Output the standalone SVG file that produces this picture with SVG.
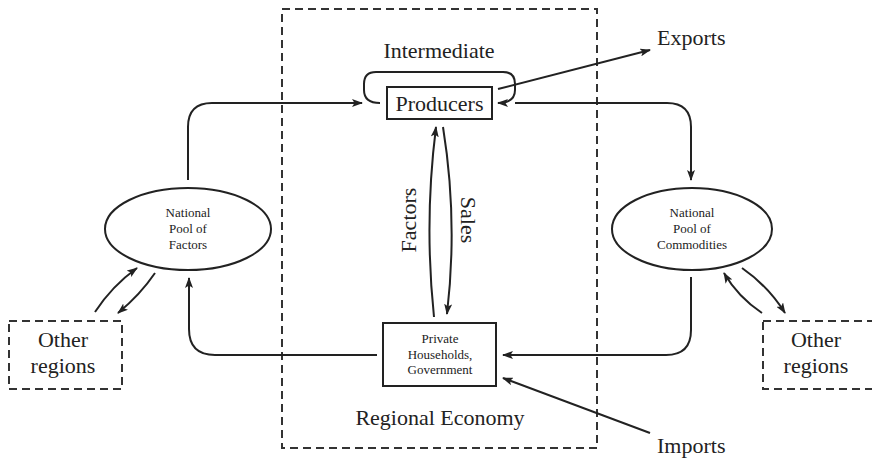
<svg xmlns="http://www.w3.org/2000/svg" width="872" height="458" viewBox="0 0 872 458">
<style>
  .t { font-family: "Liberation Serif", "Times New Roman", serif; fill: #222; }
  .big { font-size: 22px; }
  .sm { font-size: 13px; }
  .ln { fill: none; stroke: #222; stroke-width: 2; }
  .dash { fill: none; stroke: #333; stroke-width: 2; stroke-dasharray: 8 5; }
  .arr { marker-end: url(#ah); }
</style>
<defs>
  <marker id="ah" markerUnits="userSpaceOnUse" markerWidth="11" markerHeight="8" refX="10" refY="4" orient="auto">
    <path d="M0,0 L11,4 L0,8 L2.5,4 z" fill="#222"/>
  </marker>
</defs>
<rect width="872" height="458" fill="#fff"/>

<g id="regional-economy">
  <rect class="dash" x="282" y="9" width="315" height="439"/>
  <text class="t big" x="440" y="425" text-anchor="middle">Regional Economy</text>
</g>

<g id="producers">
  <rect class="ln" x="387" y="87" width="105" height="32"/>
  <text class="t big" x="439.5" y="111" text-anchor="middle">Producers</text>
</g>

<g id="intermediate-label">
  <text class="t big" x="439" y="58" text-anchor="middle">Intermediate</text>
</g>

<g id="households">
  <rect class="ln" x="383" y="323" width="113" height="63"/>
  <text class="t sm" x="440" y="343" text-anchor="middle">Private</text>
  <text class="t sm" x="440" y="359" text-anchor="middle">Households,</text>
  <text class="t sm" x="440" y="374" text-anchor="middle">Government</text>
</g>

<g id="pool-factors">
  <ellipse class="ln" cx="188" cy="229" rx="83" ry="41"/>
  <text class="t sm" x="188" y="217" text-anchor="middle">National</text>
  <text class="t sm" x="188" y="233" text-anchor="middle">Pool of</text>
  <text class="t sm" x="188" y="249" text-anchor="middle">Factors</text>
</g>

<g id="pool-commodities">
  <ellipse class="ln" cx="692" cy="229" rx="80" ry="41"/>
  <text class="t sm" x="692" y="217" text-anchor="middle">National</text>
  <text class="t sm" x="692" y="233" text-anchor="middle">Pool of</text>
  <text class="t sm" x="692" y="249" text-anchor="middle">Commodities</text>
</g>

<g id="other-regions-left">
  <rect class="dash" x="9" y="321" width="113" height="68"/>
  <text class="t big" x="63" y="347" text-anchor="middle">Other</text>
  <text class="t big" x="63" y="373" text-anchor="middle">regions</text>
</g>

<g id="other-regions-right">
  <rect class="dash" x="763" y="321" width="112" height="68"/>
  <text class="t big" x="816" y="347" text-anchor="middle">Other</text>
  <text class="t big" x="816" y="373" text-anchor="middle">regions</text>
</g>

<g id="exports">
  <text class="t big" x="657" y="45">Exports</text>
</g>

<g id="imports">
  <text class="t big" x="657" y="453">Imports</text>
</g>

<g id="connectors">
  <path class="ln arr" d="M188 180 V127 Q188 103 212 103 H362"/>
  <path class="ln arr" d="M515 103 H667 Q691 103 691 127 V180"/>
  <path class="ln arr" d="M691 277 V330 Q691 355 666 355 H503"/>
  <path class="ln arr" d="M377 355 H215 Q189 355 189 329 V278"/>
  <path class="ln arr" d="M650 433 L503 378"/>
  <path class="ln arr" d="M498 89 L650 50"/>
  <path class="ln" d="M380 103 Q364 103 364 90 V84 Q364 72 376 72 H503 Q515 72 515 84 V90"/>
  <path class="ln arr" d="M515 90 Q515 103 498 103"/>
  <path class="ln arr" d="M434 317 Q424 222 436 127"/>
  <path class="ln arr" d="M443 127 Q458 220 447 314"/>
  <path class="ln arr" d="M95 312 Q112 286 137 268"/>
  <path class="ln arr" d="M155 273 Q140 295 118 313"/>
  <path class="ln arr" d="M762 313 Q738 297 724 273"/>
  <path class="ln arr" d="M742 268 Q768 286 785 313"/>
  <text class="t big" transform="translate(416 220) rotate(-90)" text-anchor="middle">Factors</text>
  <text class="t big" transform="translate(461 220) rotate(90)" text-anchor="middle">Sales</text>
</g>
</svg>
